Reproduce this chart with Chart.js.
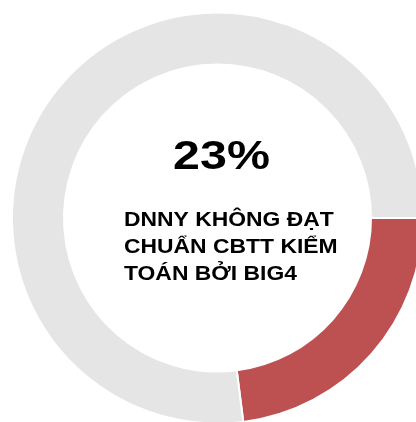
<!DOCTYPE html>
<html>
<head>
<meta charset="utf-8">
<script src="https://cdn.jsdelivr.net/npm/chart.js@4/dist/chart.umd.min.js"></script>
<style>
  html, body { margin: 0; padding: 0; background: #ffffff; overflow: hidden; width: 416px; height: 422px; }
  #wrap { position: absolute; left: 0; top: 0; width: 435px; height: 436px; }
</style>
</head>
<body>
<div id="wrap"><canvas id="c"></canvas></div>
<script>
const categories = ['DNNY không đạt chuẩn CBTT kiểm toán bởi Big4', 'Còn lại'];
const values = [23, 77];
const colors = ['#bd5151', '#e5e5e5'];
const centerTitle = '23%';
const centerLines = ['DNNY KHÔNG ĐẠT', 'CHUẨN CBTT KIỂM', 'TOÁN BỞI BIG4'];

const centerText = {
  id: 'centerText',
  afterDraw(chart) {
    const arc = chart.getDatasetMeta(0).data[0];
    if (!arc) return;
    const cx = arc.x, cy = arc.y;
    const ctx = chart.ctx;
    ctx.save();
    ctx.fillStyle = '#000000';
    ctx.textBaseline = 'alphabetic';
    // title
    ctx.save();
    ctx.font = 'bold 41px "Liberation Sans", Arial, sans-serif';
    ctx.textAlign = 'center';
    ctx.translate(cx + 4, cy - 49);
    ctx.scale(1.18, 1);
    ctx.fillText(centerTitle, 0, 0);
    ctx.restore();
    // subtitle
    ctx.font = 'bold 21px "Liberation Sans", Arial, sans-serif';
    ctx.textAlign = 'left';
    centerLines.forEach((line, i) => {
      ctx.save();
      ctx.translate(cx - 93.5, cy + 8 + i * 27);
      ctx.scale(1.09, 1);
      ctx.fillText(line, 0, 0);
      ctx.restore();
    });
    ctx.restore();
  }
};

new Chart(document.getElementById('c'), {
  type: 'doughnut',
  data: {
    labels: categories,
    datasets: [{
      data: values,
      backgroundColor: colors,
      borderColor: '#ffffff',
      borderWidth: 2,
      hoverOffset: 0
    }]
  },
  options: {
    responsive: true,
    maintainAspectRatio: false,
    animation: false,
    rotation: 90,
    radius: 205.5,
    cutout: '74.7%',
    layout: { padding: 0 },
    plugins: {
      legend: { display: false },
      tooltip: { enabled: false }
    }
  },
  plugins: [centerText]
});
</script>
</body>
</html>
